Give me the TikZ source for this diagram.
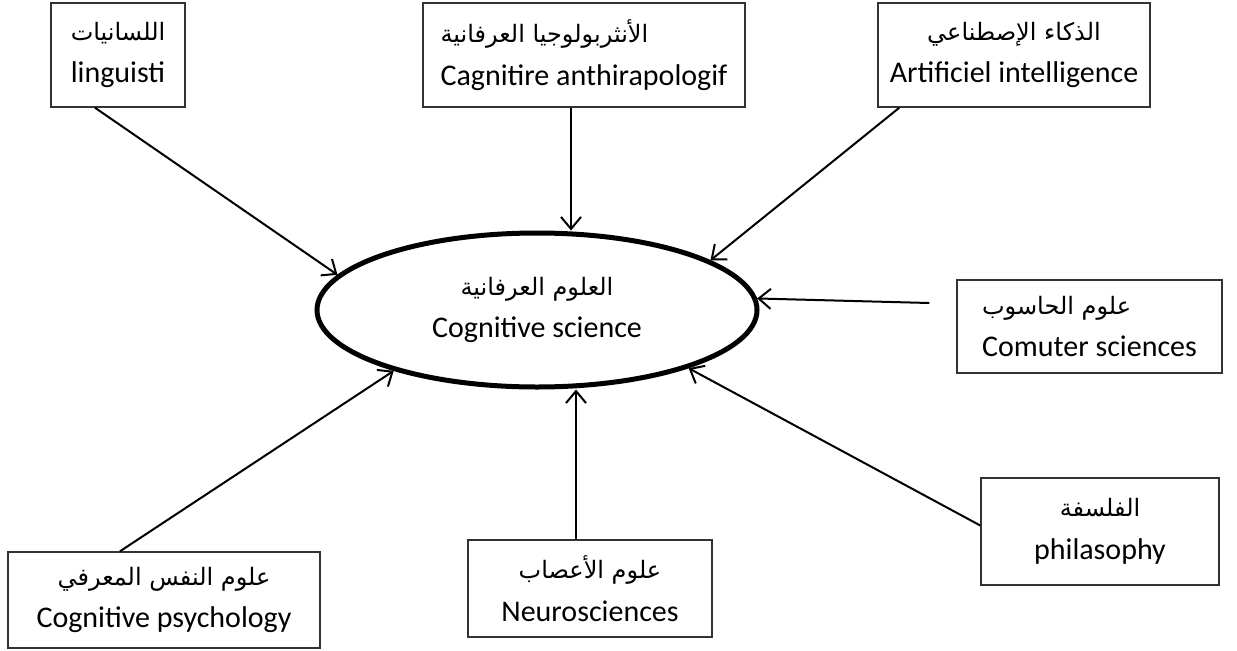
\documentclass[tikz,border=0pt]{standalone}
\usepackage{fontspec}
\setmainfont{Carlito}
\newfontfamily\arfont[Script=Arabic,Scale=0.8]{DejaVu Sans}
\TeXXeTstate=1
\usetikzlibrary{calc,shapes.geometric,arrows.meta}
\newcommand{\ar}[1]{{\arfont\beginR #1\endR}}

\begin{document}
\begin{tikzpicture}[x=0.75pt,y=-0.75pt,>={Straight Barb[length=9pt,width=15pt]},
    box/.style={draw=black!80,line width=1.1pt,rectangle,align=center,inner sep=0pt,
        font=\fontsize{22.5}{32}\selectfont},
    link/.style={->,line width=1.5pt}]
\useasboundingbox (0,0) rectangle (1237,650);
% the field in the middle
\node[draw,ellipse,line width=3.75pt,minimum width=330pt,minimum height=115.5pt,
    inner sep=0pt,align=center,font=\fontsize{22.5}{32}\selectfont]
    (cog) at (537,310) {\ar{العلوم العرفانية}\\Cognitive science};
% the fields round it
\node[box,minimum width=100.5pt,minimum height=78pt] (ling) at (118,55)
    {\ar{اللسانيات}\\linguisti};
\node[box,minimum width=241.5pt,minimum height=78pt,align=left] (anth) at (584,55)
    {\ar{الأنثربولوجيا العرفانية}\\Cagnitire anthirapologif};
\node[box,minimum width=204pt,minimum height=78pt] (ai) at (1014,55)
    {\ar{الذكاء الإصطناعي}\\Artificiel intelligence};
\node[box,minimum width=198.75pt,minimum height=69.75pt,align=left] (comp) at (1089.5,326.5)
    {\ar{علوم الحاسوب}\\Comuter sciences};
\node[box,minimum width=178.5pt,minimum height=80.25pt] (phil) at (1100,531.5)
    {\ar{الفلسفة}\\philasophy};
\node[box,minimum width=183pt,minimum height=72.75pt] (neuro) at (590,588.5)
    {\ar{علوم الأعصاب}\\Neurosciences};
\node[box,minimum width=234pt,minimum height=72pt] (psych) at (164,600)
    {\ar{علوم النفس المعرفي}\\Cognitive psychology};

\coordinate (a1) at ($(anth.south)+(-13,0)$);
\coordinate (n1) at ($(neuro.north)+(-14,0)$);
\coordinate (compend) at ($(comp.west)+(-27,-23.5)$);
\draw[link] ($(ling.south)+(-23,0)$) -- (cog.170);
\draw[link] (a1) -- (a1 |- cog.north);
\draw[link] ($(ai.south west)+(22,0)$) -- (cog.16);
\draw[link] (compend) -- (cog.3);
\draw[link] ($(phil.west)+(0,-6)$) -- (cog.-21);
\draw[link] (n1) -- (n1 |- cog.south);
\draw[link] ($(psych.north)+(-44,0)$) -- (cog.203);
\end{tikzpicture}
\end{document}
